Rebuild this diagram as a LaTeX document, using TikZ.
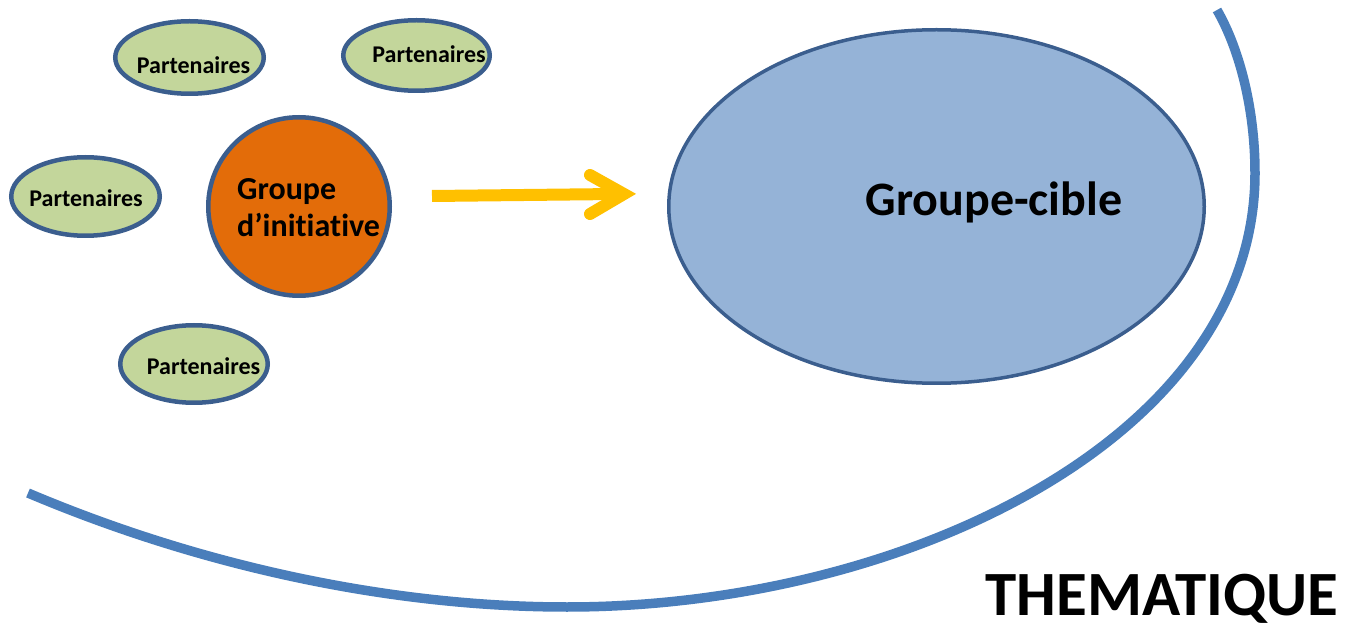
\documentclass[tikz,border=0pt]{standalone}
\usepackage{fontspec}
\setmainfont{Carlito}[Ligatures=NoCommon]
\usetikzlibrary{shapes.geometric}
\definecolor{pgreen}{HTML}{C3D69B}
\definecolor{pborder}{HTML}{3B5E8E}
\definecolor{porange}{HTML}{E36C09}
\definecolor{pblue}{HTML}{95B3D7}
\definecolor{parc}{HTML}{4A7EBB}
\definecolor{parrow}{HTML}{FFC000}
\tikzset{
  partner/.style={ellipse, draw=pborder, line width=4.5pt, fill=pgreen, inner sep=0pt},
  ptext/.style={font=\bfseries\fontsize{24}{26}\selectfont, inner sep=0pt, anchor=base},
  gitext/.style={font=\bfseries\fontsize{32}{34}\selectfont, inner sep=0pt, anchor=base west},
}
\begin{document}
\begin{tikzpicture}[x=1pt,y=-1pt]
\useasboundingbox (0,0) rectangle (1345,628);
% outer arc
\draw[parc, line width=9.5pt] (28,493) .. controls (210,570) and (400,607) .. (567,607)
  .. controls (900,607) and (1255,440) .. (1255,173)
  .. controls (1255,110) and (1240,50) .. (1217,10);
% partners
\node[partner, minimum width=148.5pt, minimum height=72.5pt] (p1) at (189.5,57.5) {};
\node[partner, minimum width=146.5pt, minimum height=70.5pt] (p2) at (416.5,55.5) {};
\node[partner, minimum width=148.5pt, minimum height=78.5pt] (p3) at (85.5,196.5) {};
\node[partner, minimum width=147.5pt, minimum height=77.5pt] (p4) at (194,364) {};
\node[ptext] (t1) at (193.5,74) {Partenaires};
\node[ptext] (t2) at (429,63) {Partenaires};
\node[ptext] (t3) at (86,207) {Partenaires};
\node[ptext] (t4) at (203.5,375) {Partenaires};
% initiative group
\node[ellipse, draw=pborder, line width=4.5pt, fill=porange, minimum width=181.5pt, minimum height=178.5pt, inner sep=0pt] (gi) at (299,206.5) {};
\node[gitext] (gi1) at (237,200) {Groupe};
\node[gitext] (gi2) at (237,237) {d’initiative};
% target group
\node[ellipse, draw=pborder, line width=3.5pt, fill=pblue, minimum width=535.5pt, minimum height=353.5pt, inner sep=0pt] (gc) at (936.5,206.5) {};
\node[font=\bfseries\fontsize{48}{50}\selectfont, inner sep=0pt, anchor=base] (gct) at (994,216) {Groupe-cible};
% arrow
\coordinate (as) at (432,196);
\coordinate (ae) at (616,194);
\coordinate (ah1) at (590,175);
\coordinate (ah2) at (624,194);
\coordinate (ah3) at (590,214);
\draw[parrow, line width=12pt] (as) -- (ae);
\draw[parrow, line width=12pt, line cap=round, line join=miter] (ah1) -- (ah2) -- (ah3);
% theme label
\node[font=\bfseries\fontsize{63}{65}\selectfont, inner sep=0pt, anchor=base] (th) at (1162,615) {THEMATIQUE};
\end{tikzpicture}
\end{document}
